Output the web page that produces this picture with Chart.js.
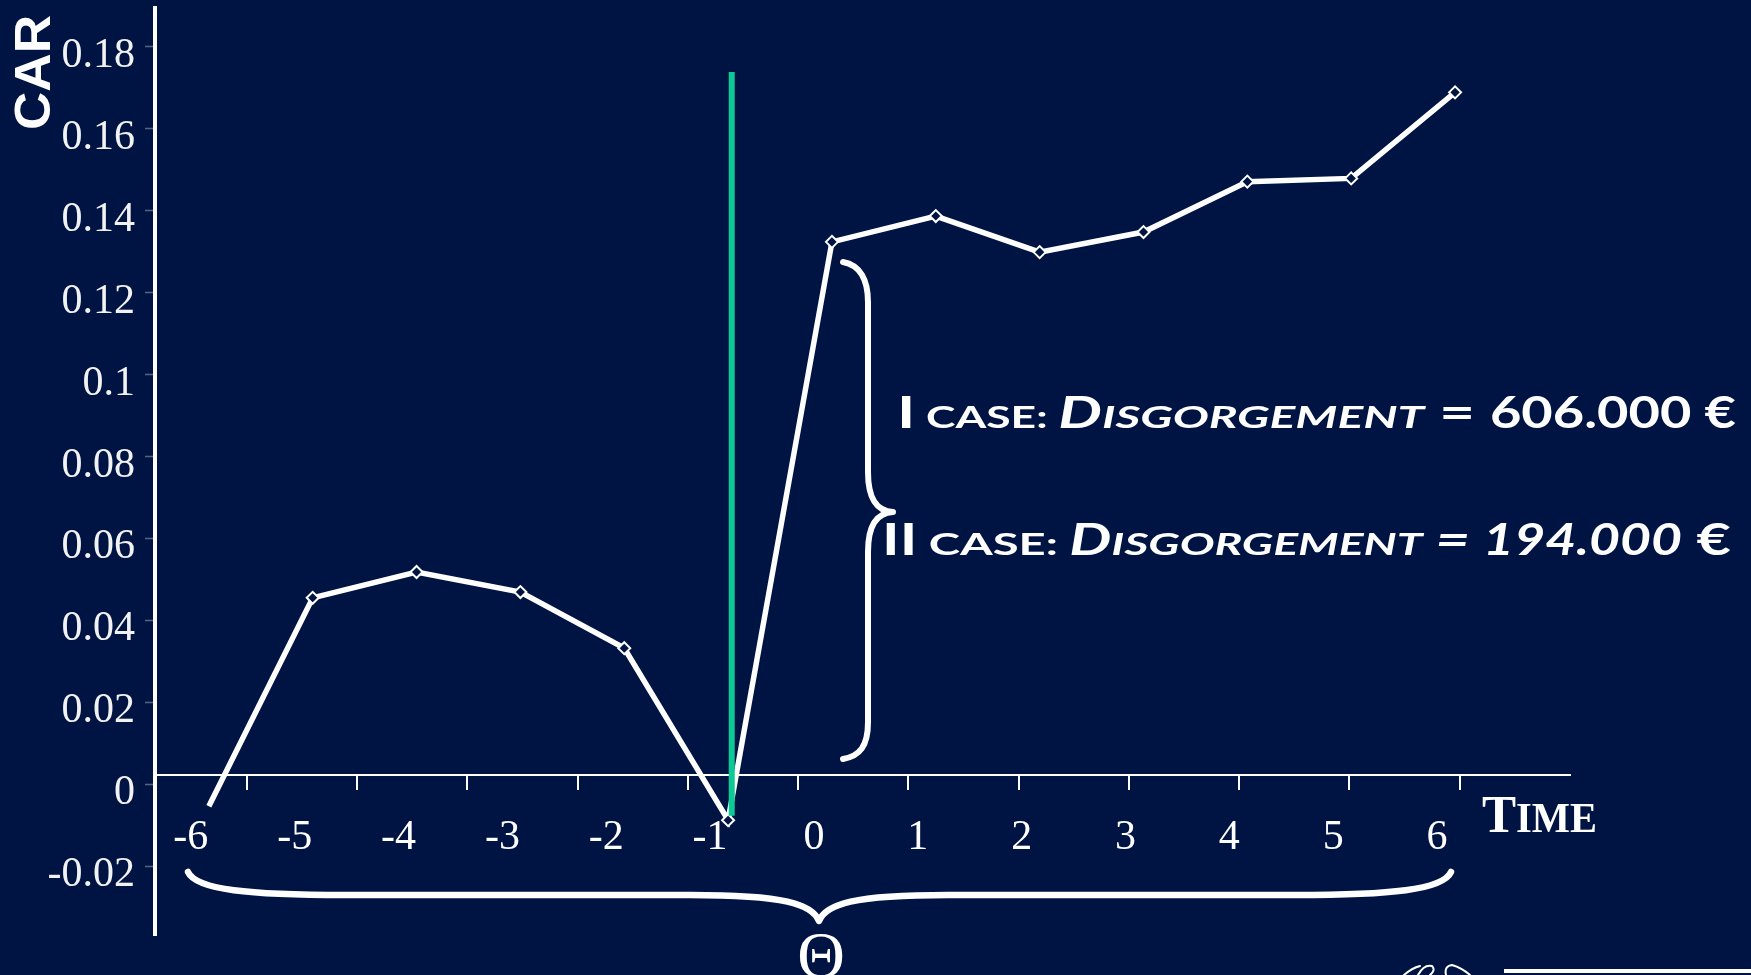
<!DOCTYPE html>
<html><head><meta charset="utf-8">
<script src="https://cdn.jsdelivr.net/npm/chart.js@4.4.1/dist/chart.umd.min.js"></script>
<style>html,body{margin:0;padding:0;background:#001443;overflow:hidden}canvas{display:block}</style>
</head><body>
<canvas id="c" width="1751" height="975" style="width:1751px;height:975px"></canvas>
<script>
// ---- data ----
const timeCategories = [-6, -5, -4, -3, -2, -1, 0, 1, 2, 3, 4, 5, 6];
const xTickLabels = ['-6', '-5', '-4', '-3', '-2', '-1', '0', '1', '2', '3', '4', '5', '6'];
const carValues = [-0.0054, 0.0455, 0.0518, 0.0469, 0.0332, -0.0088, 0.1324, 0.1387, 0.1299, 0.1348, 0.1471, 0.1479, 0.1689];
const yTickValues = [-0.02, 0, 0.02, 0.04, 0.06, 0.08, 0.1, 0.12, 0.14, 0.16, 0.18];
const xTickMarkSlots = [1, 2, 3, 4, 5, 6, 7, 8, 9, 10, 11, 12];
const eventTime = [-0.965, -0.965];
const eventCar = [0.1739, -0.0077];
const caseLine1 = ['I', ' CASE: ', 'D', 'ISGORGEMENT', ' = ', '606.000 €'];
const caseLine2 = ['II', ' CASE: ', 'D', 'ISGORGEMENT', ' = ', '194.000', ' €'];

const NAVY = '#001443';
const SERIF = '"Liberation Serif", "Times New Roman", serif';
const SANS = 'Lato, "Open Sans", sans-serif';

// run styles: b = big capital, s = small caps, i = italic, k = horizontal squeeze
const caseStyle1 = [{b: 1}, {}, {b: 1, i: 1}, {i: 1, k: 1.08}, {b: 1}, {b: 1, k: 0.88}];
const caseStyle2 = [{b: 1}, {k: 1.1}, {b: 1, i: 1}, {i: 1, k: 1.08}, {b: 1, i: 1}, {b: 1, i: 1, k: 0.9}, {b: 1}];

function drawRuns(ctx, parts, styles, x0, x1, baseline, family, bigSize, smallSize, weight) {
  let total = 0;
  const fs = st => (st.i ? 'italic ' : '') + weight + ' ' + (st.b ? bigSize : smallSize) + 'px ' + family;
  const widths = parts.map((t, j) => {
    const st = styles[j] || {};
    ctx.font = fs(st);
    const w = ctx.measureText(t).width * (st.k || 1);
    total += w;
    return w;
  });
  const sx = (x1 - x0) / total;
  ctx.save();
  ctx.translate(x0, baseline);
  ctx.scale(sx, 1);
  ctx.textAlign = 'left';
  ctx.textBaseline = 'alphabetic';
  let x = 0;
  parts.forEach((t, j) => {
    const st = styles[j] || {};
    ctx.font = fs(st);
    ctx.save();
    ctx.translate(x, 0);
    ctx.scale(st.k || 1, 1);
    ctx.fillText(t, 0, 0);
    ctx.restore();
    x += widths[j];
  });
  ctx.restore();
}

const annotations = {
  id: 'annotations',
  afterDraw(chart) {
    const ctx = chart.ctx;
    ctx.save();
    ctx.fillStyle = '#ffffff';
    ctx.strokeStyle = '#ffffff';
    ctx.lineCap = 'round';
    ctx.lineJoin = 'round';

    // vertical brace
    ctx.lineWidth = 6;
    ctx.beginPath();
    ctx.moveTo(843, 262);
    ctx.bezierCurveTo(860, 265, 868, 280, 868, 302);
    ctx.lineTo(868, 472);
    ctx.bezierCurveTo(868, 498, 876, 511, 893, 512);
    ctx.bezierCurveTo(876, 513, 868, 526, 868, 552);
    ctx.lineTo(868, 722);
    ctx.bezierCurveTo(868, 746, 860, 756, 843, 759);
    ctx.stroke();

    // horizontal brace
    ctx.lineWidth = 6.5;
    ctx.beginPath();
    ctx.moveTo(188, 872);
    ctx.bezierCurveTo(196, 890, 250, 895, 345, 895);
    ctx.lineTo(690, 895);
    ctx.bezierCurveTo(785, 895, 812, 904, 819, 921);
    ctx.bezierCurveTo(826, 904, 853, 895, 948, 895);
    ctx.lineTo(1295, 895);
    ctx.bezierCurveTo(1390, 895, 1443, 890, 1451, 872);
    ctx.stroke();

    // case texts
    drawRuns(ctx, caseLine1, caseStyle1, 897, 1736, 428, SANS, 43, 31, '700');
    drawRuns(ctx, caseLine2, caseStyle2, 882, 1731, 555, SANS, 43, 31, '700');

    // Time label
    drawRuns(ctx, ['T', 'IME'], [{b: 1}, {}], 1482, 1597, 832, SERIF, 53, 42, 'bold');

    // CAR label
    ctx.save();
    ctx.translate(50, 130);
    ctx.rotate(-Math.PI / 2);
    ctx.font = 'bold 50px "Liberation Sans", Arial, sans-serif';
    const w = ctx.measureText('CAR').width;
    ctx.scale(115 / w, 1);
    ctx.textBaseline = 'alphabetic';
    ctx.fillText('CAR', 0, 0);
    ctx.restore();

    // Theta
    ctx.font = '66px ' + SERIF;
    ctx.textAlign = 'center';
    ctx.textBaseline = 'alphabetic';
    ctx.fillText('\u0398', 821, 977);

    // bottom-right rule and logo fragment
    ctx.fillRect(1504, 969, 247, 4);
    ctx.lineWidth = 2;
    ctx.beginPath();
    ctx.moveTo(1404, 975); ctx.quadraticCurveTo(1412, 968, 1420, 966);
    ctx.moveTo(1418, 975); ctx.quadraticCurveTo(1424, 964, 1432, 966); ctx.quadraticCurveTo(1436, 970, 1430, 975);
    ctx.moveTo(1446, 975); ctx.quadraticCurveTo(1444, 966, 1452, 965); ctx.quadraticCurveTo(1462, 968, 1470, 975);
    ctx.stroke();
    ctx.restore();
  }
};

const chart = new Chart(document.getElementById('c'), {
  type: 'line',
  data: {
    datasets: [
      {
        label: 'event',
        data: eventTime.map((x, i) => ({x: x, y: eventCar[i]})),
        borderColor: '#0cc995',
        borderWidth: 6,
        borderCapStyle: 'butt',
        pointRadius: 0,
        order: 0
      },
      {
        label: 'CAR',
        data: timeCategories.map((t, i) => ({x: t, y: carValues[i]})),
        borderColor: '#ffffff',
        borderWidth: 5.5,
        pointStyle: 'rectRot',
        pointRadius: carValues.map((v, i) => i === 0 ? 0 : 6),
        pointBackgroundColor: NAVY,
        pointBorderColor: '#ffffff',
        pointBorderWidth: 2,
        order: 1
      }
    ]
  },
  options: {
    responsive: false,
    animation: false,
    devicePixelRatio: 1,
    events: [],
    layout: {padding: {left: 0, top: 7, right: 181, bottom: 40}},
    plugins: {legend: {display: false}, tooltip: {enabled: false}},
    scales: {
      x: {
        type: 'linear',
        min: -6.5185,
        max: 7.1069,
        position: {y: 0.0022},
        afterBuildTicks: s => { s.ticks = timeCategories.map(v => ({value: v})); },
        afterFit: s => { s.paddingLeft = 0; s.paddingRight = 0; },
        ticks: {
          callback: (v, i) => xTickLabels[i],
          labelOffset: -18,
          padding: 38,
          autoSkip: false,
          maxRotation: 0,
          color: '#ffffff',
          font: {family: SERIF, size: 42, lineHeight: 1.2}
        },
        grid: {drawOnChartArea: false, drawTicks: false},
        border: {display: true, color: '#ffffff', width: 2}
      },
      x2: {
        type: 'linear',
        axis: 'x',
        min: 0.1678,
        max: 13.0,
        position: {y: 0.0022},
        afterBuildTicks: s => { s.ticks = xTickMarkSlots.map(v => ({value: v})); },
        afterFit: s => { s.paddingLeft = 0; s.paddingRight = 0; },
        ticks: {display: false},
        grid: {drawOnChartArea: false, drawTicks: true, tickLength: 15, tickColor: '#ffffff', tickWidth: 2, lineWidth: 2},
        border: {display: false}
      },
      y: {
        type: 'linear',
        position: 'left',
        min: -0.03683,
        max: 0.1895,
        afterBuildTicks: s => { s.ticks = yTickValues.map(v => ({value: v})); },
        afterFit: s => { s.width = 155; s.paddingTop = 0; s.paddingBottom = 0; },
        ticks: {
          callback: v => String(+Number(v).toFixed(2)),
          padding: 10,
          labelOffset: 9,
          color: '#f2f2f2',
          font: {family: SERIF, size: 42, lineHeight: 1.2}
        },
        grid: {drawOnChartArea: false, drawTicks: true, tickLength: 10, tickColor: '#56647f', tickWidth: 1.5},
        border: {display: true, color: '#ffffff', width: 4}
      }
    }
  },
  plugins: [annotations]
});
</script>
</body></html>
